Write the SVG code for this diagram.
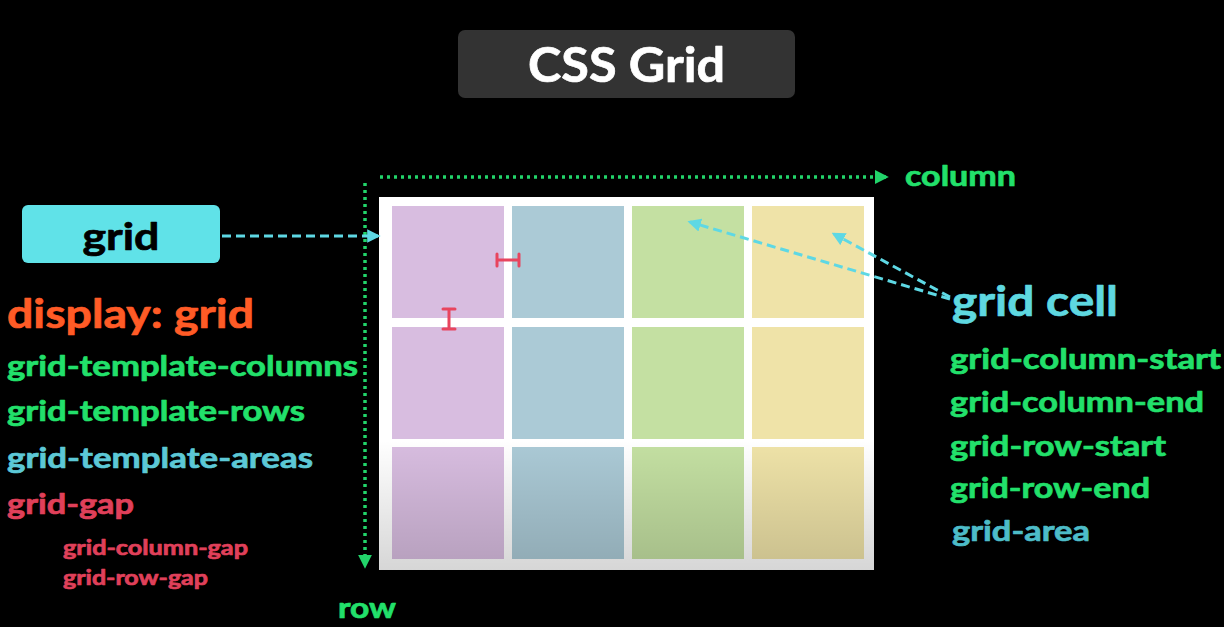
<svg xmlns="http://www.w3.org/2000/svg" width="1224" height="627" viewBox="0 0 1224 627">
<defs>
<style>
text{font-family:Lato,"Open Sans","Noto Sans",sans-serif;font-weight:bold;stroke-width:0.7;stroke-linejoin:round}
.g{fill:#22e06b;stroke:#22e06b}
.c{fill:#5ed8e0;stroke:#5ed8e0}
.a{fill:#5cc8d6;stroke:#5cc8d6}
.r{fill:#e0405a;stroke:#e0405a}
.o{fill:#ff5b26;stroke:#ff5b26}
.w{fill:#fff;stroke:#fff}
.k{fill:#000;stroke:#000}
.big{font-size:29px}
.sm{font-size:21px}
.dot{stroke:#22d46a;stroke-width:3.5;stroke-dasharray:3 4;fill:none}
.dash{stroke:#5ed8e4;stroke-width:3;stroke-dasharray:9 5;fill:none}
.gapm{stroke:#e8455e;stroke-width:3;fill:none;stroke-linecap:round}
</style>
<marker id="ag" viewBox="0 0 10 10" refX="8" refY="5" markerWidth="4" markerHeight="4" orient="auto"><path d="M0,0L10,5L0,10z" fill="#22d46a"/></marker>
<marker id="ac" viewBox="0 0 10 10" refX="8" refY="5" markerWidth="4.5" markerHeight="4.5" orient="auto"><path d="M0,0L10,5L0,10z" fill="#5ed8e4"/></marker>
<linearGradient id="shade" x1="0" y1="440" x2="0" y2="570" gradientUnits="userSpaceOnUse">
<stop offset="0" stop-color="#000" stop-opacity="0"/>
<stop offset="1" stop-color="#000" stop-opacity="0.16"/>
</linearGradient>
</defs>
<rect width="1224" height="627" fill="#000"/>

<g id="title">
<rect x="458" y="30" width="337" height="68" rx="7" fill="#333333"/>
<text x="626.5" y="82" font-size="47" class="w" text-anchor="middle" textLength="197" lengthAdjust="spacingAndGlyphs">CSS Grid</text>
</g>

<g id="grid-panel">
<rect x="379" y="197" width="495" height="373" fill="#fff"/>
<g id="cells">
<rect x="392" y="206" width="112" height="112" fill="#d8bde0"/>
<rect x="512" y="206" width="112" height="112" fill="#abcad6"/>
<rect x="632" y="206" width="112" height="112" fill="#c4e0a2"/>
<rect x="752" y="206" width="112" height="112" fill="#efe3a8"/>
<rect x="392" y="327" width="112" height="112" fill="#d8bde0"/>
<rect x="512" y="327" width="112" height="112" fill="#abcad6"/>
<rect x="632" y="327" width="112" height="112" fill="#c4e0a2"/>
<rect x="752" y="327" width="112" height="112" fill="#efe3a8"/>
<rect x="392" y="447" width="112" height="112" fill="#d8bde0"/>
<rect x="512" y="447" width="112" height="112" fill="#abcad6"/>
<rect x="632" y="447" width="112" height="112" fill="#c4e0a2"/>
<rect x="752" y="447" width="112" height="112" fill="#efe3a8"/>
</g>
<rect x="379" y="440" width="495" height="130" fill="url(#shade)"/>
<g id="gap-markers">
<path class="gapm" d="M497,260H519M497,254V266M519,254V266"/>
<path class="gapm" d="M449,309V329M443,309H455M443,329H455"/>
</g>
</g>

<g id="grid-node">
<rect x="22" y="205" width="198" height="58" rx="6" fill="#60e2e8"/>
<text x="121" y="250" font-size="38" class="k" text-anchor="middle" textLength="77" lengthAdjust="spacingAndGlyphs">grid</text>
</g>

<g id="container-props">
<text x="7" y="328" font-size="40" class="o" textLength="247" lengthAdjust="spacingAndGlyphs">display: grid</text>
<text x="7" y="376" class="g big" textLength="351" lengthAdjust="spacingAndGlyphs">grid-template-columns</text>
<text x="7" y="421" class="g big" textLength="298" lengthAdjust="spacingAndGlyphs">grid-template-rows</text>
<text x="7" y="468" class="a big" textLength="306" lengthAdjust="spacingAndGlyphs">grid-template-areas</text>
<text x="7" y="514" class="r big" textLength="127" lengthAdjust="spacingAndGlyphs">grid-gap</text>
<text x="63" y="555" class="r sm" textLength="185" lengthAdjust="spacingAndGlyphs">grid-column-gap</text>
<text x="63" y="585" class="r sm" textLength="145" lengthAdjust="spacingAndGlyphs">grid-row-gap</text>
</g>

<g id="axis-labels">
<text x="905" y="186" class="g" font-size="29" textLength="111" lengthAdjust="spacingAndGlyphs">column</text>
<text x="338" y="618" class="g" font-size="29" textLength="58" lengthAdjust="spacingAndGlyphs">row</text>
</g>

<g id="grid-cell-node">
<text x="952" y="316" font-size="42" class="c" textLength="166" lengthAdjust="spacingAndGlyphs">grid cell</text>
</g>

<g id="item-props">
<text x="950" y="369" class="g big" textLength="271" lengthAdjust="spacingAndGlyphs">grid-column-start</text>
<text x="950" y="412" class="g big" textLength="254" lengthAdjust="spacingAndGlyphs">grid-column-end</text>
<text x="950" y="456" class="g big" textLength="216" lengthAdjust="spacingAndGlyphs">grid-row-start</text>
<text x="950" y="498" class="g big" textLength="200" lengthAdjust="spacingAndGlyphs">grid-row-end</text>
<text x="952" y="541" class="big" fill="#4dbcc8" stroke="#4dbcc8" textLength="138" lengthAdjust="spacingAndGlyphs">grid-area</text>
</g>

<g id="connectors">
<path class="dot" d="M380,177H886" marker-end="url(#ag)"/>
<path class="dot" d="M365,183V566" marker-end="url(#ag)"/>
<path class="dash" d="M222,236H378" marker-end="url(#ac)"/>
<path class="dash" d="M950,299L690,222" marker-end="url(#ac)"/>
<path class="dash" d="M950,297L834,234" marker-end="url(#ac)"/>
</g>
</svg>
